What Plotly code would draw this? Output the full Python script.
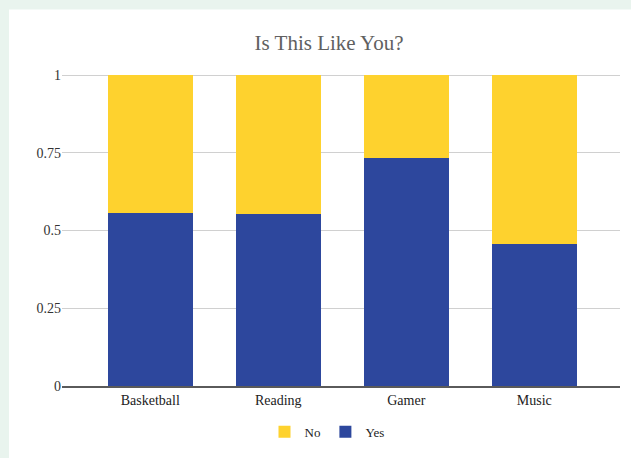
import plotly.graph_objects as go

categories = ["Basketball", "Reading", "Gamer", "Music"]
yes_values = [0.556, 0.552, 0.733, 0.458]
no_values = [round(1 - v, 3) for v in yes_values]
y_ticks = [0, 0.25, 0.5, 0.75, 1]
y_tick_labels = ["0", "0.25", "0.5", "0.75", "1"]

BLUE = "#2d479d"
YELLOW = "#fed22e"
MINT = "#e9f4ee"
SERIF = "Liberation Serif, Times New Roman, serif"

fig = go.Figure()
fig.add_trace(go.Bar(x=categories, y=yes_values, name="Yes",
                     marker=dict(color=BLUE, line=dict(width=0))))
fig.add_trace(go.Bar(x=categories, y=no_values, name="No",
                     marker=dict(color=YELLOW, line=dict(width=0))))

W, H = 631, 458
L, R, T, B = 62, 11, 72, 70
pw = W - L - R
ph = H - T - B

fig.update_layout(
    width=W, height=H,
    barmode="stack",
    bargap=0.335,
    paper_bgcolor=MINT,
    plot_bgcolor="white",
    margin=dict(l=L, r=R, t=T, b=B, pad=0),
    font=dict(family=SERIF, size=14, color="#222222"),
    title=dict(text="Is This Like You?", x=(329 - L) / pw, xref="paper", xanchor="center",
               y=1 - 43 / H, yanchor="middle",
               font=dict(family=SERIF, size=21, color="#606060")),
    showlegend=True,
    legend=dict(orientation="h", traceorder="reversed", x=(327 - L) / pw, xanchor="center",
                y=-(434 - (T + ph)) / ph, yanchor="middle",
                font=dict(family=SERIF, size=13, color="#222222"),
                bgcolor="rgba(0,0,0,0)"),
    xaxis=dict(range=[-0.69, 3.67], showgrid=False, showline=True,
               linecolor="#5a5a5a", linewidth=2, ticks="",
               tickfont=dict(family=SERIF, size=14, color="#222222"), fixedrange=True),
    yaxis=dict(range=[0, 1.01], tickvals=y_ticks, ticktext=y_tick_labels,
               showgrid=True, gridcolor="#d0d0d0", gridwidth=1, zeroline=False,
               ticks="", tickfont=dict(family=SERIF, size=14, color="#333333"),
               fixedrange=True),
    shapes=[dict(type="rect", xref="paper", yref="paper", layer="below",
                 x0=(9 - L) / pw, x1=(W + 5 - L) / pw,
                 y0=-(H + 5 - (T + ph)) / ph, y1=1 + (T - 9) / ph,
                 fillcolor="white", line=dict(width=0))],
)

fig.write_html(
    "out.html",
    config={"displayModeBar": False, "staticPlot": True},
    post_script="document.body.style.margin='0';document.body.style.padding='0';"
                "document.body.style.background='" + MINT + "';"
                "document.documentElement.style.overflow='hidden';",
)
